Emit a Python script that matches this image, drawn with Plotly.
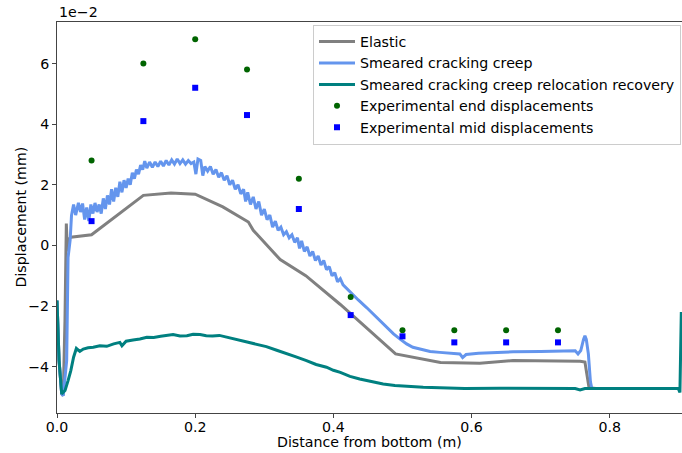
import plotly.graph_objects as go

# values in units of 1e-2 mm
exp_x = [0.05, 0.125, 0.2, 0.275, 0.35, 0.425, 0.5, 0.575, 0.65, 0.725]
exp_end = [2.8, 6.0, 6.8, 5.8, 2.2, -1.7, -2.8, -2.8, -2.8, -2.8]
exp_mid = [0.8, 4.1, 5.2, 4.3, 1.2, -2.3, -3.0, -3.2, -3.2, -3.2]

elastic_x = [0.0, 0.003, 0.0068, 0.009, 0.0115, 0.0135, 0.015, 0.017, 0.02, 0.05, 0.125, 0.165,
             0.2, 0.24, 0.277, 0.284, 0.323, 0.36, 0.41, 0.49, 0.555, 0.612, 0.66, 0.757, 0.764,
             0.770, 0.78, 0.899]
elastic_y = [-1.82, -3.8, -4.9, -4.95, -2.5, 0.72, -0.2, 0.2, 0.27, 0.35, 1.65, 1.73,
             1.69, 1.27, 0.77, 0.5, -0.47, -1.0, -1.95, -3.58, -3.86, -3.89, -3.80, -3.82, -3.85,
             -4.70, -4.72, -4.72]

creep_x = [0.0, 0.003, 0.0068, 0.009, 0.014, 0.016, 0.019, 0.021,
           0.024, 0.027, 0.031, 0.034, 0.037, 0.040, 0.043, 0.046, 0.049, 0.052, 0.055, 0.058,
           0.061, 0.064, 0.067, 0.070, 0.073, 0.076, 0.079, 0.082, 0.085, 0.088, 0.091, 0.094,
           0.097, 0.100, 0.103, 0.106, 0.109, 0.112, 0.115, 0.118, 0.121, 0.124, 0.127, 0.130,
           0.134, 0.138, 0.142, 0.146, 0.150, 0.154, 0.158, 0.162, 0.166, 0.170, 0.174, 0.178,
           0.182, 0.186, 0.190, 0.194, 0.198, 0.201, 0.204, 0.208, 0.211, 0.214, 0.218, 0.222,
           0.226, 0.230, 0.234, 0.238, 0.242, 0.246, 0.250, 0.254, 0.258, 0.262, 0.266, 0.270,
           0.273, 0.276, 0.280, 0.284, 0.288, 0.292, 0.296, 0.300, 0.304, 0.308, 0.312, 0.316,
           0.320, 0.324, 0.328, 0.332, 0.336, 0.340, 0.344, 0.348, 0.351, 0.354, 0.358, 0.362,
           0.366, 0.370, 0.374, 0.378, 0.382, 0.386, 0.390, 0.394, 0.398, 0.402, 0.406, 0.410,
           0.414, 0.424, 0.436, 0.448, 0.458, 0.467, 0.477, 0.487, 0.497, 0.506, 0.515, 0.525,
           0.540, 0.554, 0.570, 0.583, 0.587, 0.592, 0.610, 0.631, 0.660, 0.700, 0.742, 0.750,
           0.754, 0.758, 0.762, 0.764, 0.766, 0.769, 0.772, 0.774, 0.899]
creep_y = [-1.82, -3.8, -4.9, -4.96, -3.8, -0.4, 0.17, 0.99,
           1.35, 1.0, 1.40, 1.1, 1.38, 0.85, 1.25, 0.8, 1.35, 1.05, 1.40, 1.1,
           1.35, 1.05, 1.55, 1.2, 1.65, 1.35, 1.85, 1.45, 1.9, 1.6, 2.1, 1.75,
           2.15, 1.9, 2.2, 2.0, 2.4, 2.2, 2.5, 2.35, 2.65, 2.5, 2.78, 2.55,
           2.75, 2.58, 2.75, 2.6, 2.78, 2.62, 2.8, 2.65, 2.82, 2.68, 2.85, 2.7,
           2.82, 2.68, 2.8, 2.7, 2.75, 2.35, 2.85, 2.8, 2.3, 2.6, 2.45, 2.6,
           2.35, 2.5, 2.25, 2.4, 2.15, 2.3, 2.0, 2.15, 1.85, 2.0, 1.7, 1.85,
           1.45, 1.75, 1.35, 1.6, 1.2, 1.45, 1.0, 1.2, 0.85, 1.0, 0.6, 0.8,
           0.5, 0.6, 0.35, 0.45, 0.25, 0.35, 0.1, 0.25, -0.1, 0.15, -0.2, -0.05,
           -0.35, -0.2, -0.5, -0.35, -0.65, -0.5, -0.8, -0.7, -1.0, -0.9, -1.2, -1.1,
           -1.3, -1.54, -1.8, -2.05, -2.28, -2.48, -2.72, -2.92, -3.1, -3.25, -3.36, -3.42,
           -3.5, -3.53, -3.57, -3.58, -3.7, -3.6, -3.56, -3.54, -3.51, -3.50, -3.50, -3.48,
           -3.58, -3.47, -3.1, -2.98, -3.1, -3.58, -4.5, -4.72, -4.72]

reloc_x = [0.0, 0.003, 0.0068, 0.0116, 0.016, 0.020, 0.024, 0.028, 0.033, 0.038, 0.045,
           0.0525, 0.062, 0.072, 0.082, 0.091, 0.094, 0.100, 0.110, 0.120, 0.130, 0.140,
           0.150, 0.160, 0.168, 0.178, 0.188, 0.197, 0.207, 0.216, 0.225, 0.235, 0.246,
           0.260, 0.274, 0.288, 0.303, 0.318, 0.332, 0.346, 0.361, 0.375, 0.390, 0.400,
           0.410, 0.424, 0.438, 0.455, 0.472, 0.489, 0.506, 0.530, 0.554, 0.572, 0.590,
           0.640, 0.700, 0.750, 0.757, 0.764, 0.800, 0.899, 0.9015, 0.9035]
reloc_y = [-1.82, -3.8, -4.9, -4.79, -4.46, -4.13, -3.69, -3.40, -3.50, -3.42, -3.38,
           -3.36, -3.31, -3.33, -3.25, -3.20, -3.31, -3.16, -3.12, -3.09, -3.03, -3.04,
           -3.00, -2.97, -2.94, -2.99, -2.98, -2.93, -2.94, -2.98, -2.99, -2.97, -3.03,
           -3.12, -3.20, -3.27, -3.34, -3.46, -3.58, -3.68, -3.80, -3.93, -4.02, -4.12,
           -4.19, -4.32, -4.41, -4.50, -4.57, -4.62, -4.65, -4.68, -4.70, -4.72, -4.72,
           -4.71, -4.72, -4.72, -4.77, -4.72, -4.72, -4.72, -4.85, -2.2]

y_ticks = [-4, -2, 0, 2, 4, 6]
x_ticks = [0.0, 0.2, 0.4, 0.6, 0.8]
x_tick_text = ["0.0", "0.2", "0.4", "0.6", "0.8"]

FONT = "DejaVu Sans"
FS = 14.2

fig = go.Figure()
fig.add_trace(go.Scatter(x=elastic_x, y=elastic_y, mode="lines", name="Elastic",
                         line=dict(color="#808080", width=3)))
fig.add_trace(go.Scatter(x=creep_x, y=creep_y, mode="lines", name="Smeared cracking creep",
                         line=dict(color="#6495ED", width=3)))
fig.add_trace(go.Scatter(x=reloc_x, y=reloc_y, mode="lines",
                         name="Smeared cracking creep relocation recovery",
                         line=dict(color="#008080", width=3)))
fig.add_trace(go.Scatter(x=exp_x, y=exp_end, mode="markers", name="Experimental end displacements",
                         marker=dict(color="#006400", size=6, symbol="circle")))
fig.add_trace(go.Scatter(x=exp_x, y=exp_mid, mode="markers", name="Experimental mid displacements",
                         marker=dict(color="#0000FF", size=6, symbol="square")))

fig.update_layout(
    width=682, height=453,
    margin=dict(l=57, r=0, t=22, b=40, autoexpand=False),
    paper_bgcolor="white", plot_bgcolor="white",
    font=dict(family=FONT, size=FS, color="black"),
    showlegend=True,
    legend=dict(x=0.4096, y=0.993, xanchor="left", yanchor="top",
                bgcolor="rgba(255,255,255,0.8)", bordercolor="#cccccc", borderwidth=1,
                font=dict(family=FONT, size=FS), tracegroupgap=0, itemwidth=36),
    xaxis=dict(range=[0, 0.9045], tickvals=x_ticks, ticktext=x_tick_text, automargin=False,
               showgrid=False, zeroline=False, showline=True, linecolor="#444", linewidth=1,
               mirror=True, ticks="outside", ticklen=4, tickcolor="#444",
               ticklabelstandoff=-3,
               tickfont=dict(family=FONT, size=FS)),
    yaxis=dict(range=[-5.53, 7.37], tickvals=y_ticks, automargin=False,
               showgrid=False, zeroline=False, showline=True, linecolor="#444", linewidth=1,
               ticks="outside", ticklen=4, tickcolor="#444",
               tickfont=dict(family=FONT, size=FS)),
    annotations=[
        dict(text="1e\u22122", xref="paper", yref="paper", x=0, y=1,
             xanchor="left", yanchor="bottom", showarrow=False,
             font=dict(family=FONT, size=FS)),
        dict(text="Distance from bottom (m)", xref="paper", yref="paper", x=0.5, y=0,
             xanchor="center", yanchor="middle", yshift=-29, showarrow=False,
             font=dict(family=FONT, size=FS)),
        dict(text="Displacement (mm)", xref="paper", yref="paper", x=0, y=0.5,
             xanchor="center", yanchor="middle", xshift=-37, textangle=-90, showarrow=False,
             font=dict(family=FONT, size=FS)),
    ],
)

fig.write_html("out.html", config={"displayModeBar": False},
               post_script="document.body.style.margin='0px';")
